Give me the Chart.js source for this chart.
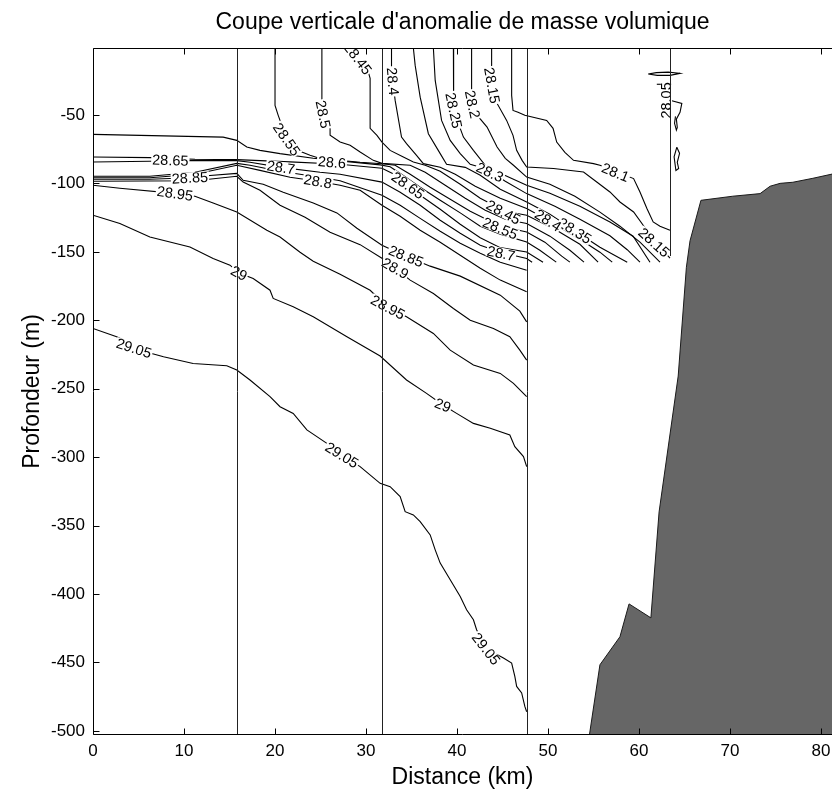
<!DOCTYPE html>
<html><head><meta charset="utf-8">
<script src="https://cdn.jsdelivr.net/npm/chart.js@4.4.1/dist/chart.umd.min.js"></script>
<style>html,body{margin:0;padding:0;background:#fff;}canvas{display:block;}</style>
</head><body>
<canvas id="c" width="832" height="802"></canvas>
<script>
// ---- axes / ticks ----
const xTicks = [0, 10, 20, 30, 40, 50, 60, 70, 80];
const yTicks = [-500, -450, -400, -350, -300, -250, -200, -150, -100, -50];
const xRange = [0, 81.2];
const yRange = [-503, -1];

// ---- CTD stations (km) and bottom of each cast (m) ----
const stationKm = [15.8, 31.75, 47.65, 63.4];
const stationBottom = [-503, -503, -503, -153];

// ---- bathymetry (km, m) ----
const topoKm = [54.5, 55.7, 57.9, 58.9, 61.3, 62.2, 64.3, 65.2, 65.6, 66.8, 70.3, 73.3, 74.4, 75.5, 76.9, 79.1, 81.3];
const topoDepth = [-505, -451.7, -431.2, -407.2, -417.4, -340, -240.7, -161.2, -141.9, -112.3, -109.3, -107.4, -102, -99.9, -99.1, -96.2, -93];

// ---- contour lines of sigma (km, m) ----
const c2805a = [[61.0,-20],[61.9,-19],[63.2,-18.6],[64.5,-19.5],[63.4,-21],[62.0,-21],[61.0,-20]];
const c2805b = [[61.95,-27.5],[63.6,-27.5]];
const c2805c = [[63.6,-39.5],[64.7,-41.5],[64.5,-48],[64.1,-53],[64.2,-59],[64.1,-61],[63.9,-56],[64.0,-51]];
const c2805d = [[64.15,-73.5],[64.45,-78],[64.2,-84.5],[64.35,-89],[64.05,-90.5],[63.85,-80.5],[64.15,-73.5]];
const c2810 = [[46.0,-1],[46.0,-35.6],[46.15,-46.6],[46.7,-48],[47.45,-50.2],[49.85,-53.9],[50.55,-59.7],[50.95,-69.7],[51.85,-77.2],[52.8,-83.1],[55.0,-85.5],[55.7,-86.7],[59.4,-96.4],[60.1,-106.2],[60.85,-118.1],[61.55,-128.1],[62.3,-131.2],[63.4,-134.2]];
const c2815 = [[43.8,-1],[43.8,-15.9],[44.05,-28.3],[44.4,-41.5],[45.45,-53.9],[46.15,-64.8],[46.55,-75.8],[47.15,-83.1],[47.65,-88],[50.6,-89.1],[53.9,-91.6],[55.35,-98.9],[56.8,-106.2],[57.9,-113.5],[59.4,-120.8],[60.85,-134.2],[62.1,-145.1],[63.4,-154.6]];
const c2820 = [[41.6,-1],[41.6,-30.5],[41.7,-42.2],[42.5,-52.4],[43.3,-58.8],[44.4,-73.4],[45.3,-81.6],[46.2,-86.7],[47.65,-95.3],[50.2,-100.6],[52.95,-109.3],[55.7,-120.9],[57.9,-131.2],[60.1,-142.9],[62.3,-157.5]];
const c2825 = [[39.6,-1],[39.6,-32],[39.65,-46.6],[40.7,-66.1],[41.8,-75.8],[43.1,-86.7],[44.75,-92.6],[47.65,-101.3],[50.2,-107.2],[53.5,-116.6],[56.8,-128.2],[59.35,-138.5],[61.2,-157.5]];
const c2830 = [[37.4,-1],[37.6,-24.7],[38.3,-53.9],[39.25,-68.5],[40.35,-78.2],[41.45,-86],[43.3,-89.6],[45.3,-98.4],[47.65,-107.4],[50.75,-116.6],[53.5,-126.1],[56.8,-138.2],[58.7,-148.4],[60.1,-157.5]];
const c2835 = [[35.2,-1],[35.4,-13.7],[35.95,-36.9],[36.85,-63.6],[38.15,-78.2],[38.85,-86],[40.9,-88.2],[42.55,-94],[44.75,-104.2],[47.65,-113.5],[50.2,-122.5],[55.7,-146.6],[58.7,-157.5]];
const c2840 = [[32.8,-1],[32.8,-15.9],[32.95,-25.4],[33.2,-39.3],[33.9,-66.1],[34.45,-70.9],[35.55,-79.4],[36.3,-85.5],[38.15,-88.2],[39.8,-93.3],[42,-102],[44.75,-110.8],[47.65,-118.3],[50.2,-127.6],[53.5,-140.7],[55.7,-150.2],[57.05,-157.5]];
const c2845 = [[27.7,-1],[30.2,-17.4],[30.45,-23.2],[30.45,-59.7],[31.2,-64.8],[31.75,-69.7],[32.65,-75.8],[34.1,-80.7],[35.2,-84.3],[36.5,-86.7],[38.15,-91.1],[40.35,-100.6],[42.55,-110.8],[45.3,-120.3],[47.65,-123.2],[50.75,-133.4],[53.5,-144.4],[55.5,-157.5]];
const c2850 = [[25.15,-1],[25.15,-37.8],[25.15,-49.5],[26.05,-59.9],[26.05,-64.8],[27.15,-69.7],[28.25,-72.1],[29.35,-77],[30.8,-83.1],[31.75,-85.3],[34.85,-86.7],[36.5,-91.8],[38.7,-101.3],[40.9,-110.8],[43.1,-119.6],[45.3,-126.1],[47.65,-129.3],[50.2,-138.5],[52.4,-148.8],[53.95,-157.5]];
const c2855 = [[20,-1],[20,-42.9],[20.35,-50.2],[21.3,-67.7],[22.95,-77],[23.85,-79.4],[24.95,-81.8],[29.35,-84.5],[31.75,-85.6],[33.2,-86.7],[34.85,-93.3],[37.05,-102.7],[39.25,-111.5],[41.45,-120.3],[43.65,-127.6],[45.3,-132],[47.65,-135.4],[49.65,-142.9],[51.5,-153.1],[52.4,-157.5]];
const c2860 = [[0,-64.1],[14.3,-66.1],[15.8,-68.5],[16.9,-73.4],[18.35,-75.8],[20.55,-78.2],[24.2,-81.6],[28.25,-84.2],[31.55,-86.4],[32.65,-87.8],[34.05,-94],[35.95,-102.7],[38.15,-112.3],[40.35,-121.5],[42.55,-131.2],[44.75,-137],[47.65,-142.7],[49.1,-148.8],[50.9,-157.5]];
const c2865 = [[0,-80.7],[6.25,-81.1],[11.2,-82.3],[15.8,-82.6],[21.65,-84.2],[27.15,-86],[31.75,-88.9],[33.75,-95.5],[35.95,-108.6],[38.15,-118.8],[40.35,-129.8],[42.55,-139.6],[44.75,-146.9],[47.65,-150],[49.45,-157.5]];
const c2870 = [[0,-84.3],[6.25,-83.8],[11.2,-83.1],[15.8,-83.3],[17.25,-84.5],[20.65,-88.2],[24.95,-91.8],[27.15,-93.3],[31.75,-99],[33.75,-106.4],[35.95,-115.9],[38.15,-126.9],[40.35,-136.4],[42.55,-145.1],[44.75,-150.2],[47.65,-154.8],[48.25,-157.5]];
const c2875 = [[0,-94.7],[6.25,-94.7],[11.2,-91.8],[15.8,-85.3],[17.25,-86.7],[20.55,-91.1],[24.95,-95.5],[27.15,-98],[31.75,-108.6],[33.75,-115.9],[35.95,-125.5],[38.15,-134.9],[40.35,-143.6],[42.55,-150.9],[44.75,-157.5],[47.65,-163.4]];
const c2880 = [[0,-95.8],[6.25,-95.8],[11.2,-93.3],[15.8,-86.7],[18.35,-90.4],[21.65,-95.5],[24.7,-98.4],[27.15,-101.3],[29.35,-105],[31.75,-115.9],[33.75,-124],[35.95,-134.2],[38.15,-142.9],[40.35,-152.4],[42.55,-161.9],[44.75,-170.6],[47.65,-179.2]];
const c2885 = [[0,-96.9],[6.25,-96.9],[10.65,-95.8],[12.5,-94.4],[15.8,-92.6],[16.5,-97.7],[18.7,-100.6],[20.9,-106.4],[24.2,-114.2],[26.8,-121.5],[29,-132.7],[31.75,-145.1],[34.4,-153.1],[37.05,-160.4],[40.35,-167.7],[44.75,-181.6],[46.9,-193.3],[47.65,-201.1]];
const c2890 = [[0,-98.4],[11.2,-98],[15.8,-94.7],[16.5,-99],[18.35,-105],[20.55,-115.9],[23.3,-124.7],[26.05,-135.6],[29.35,-144.7],[31.75,-154.6],[33.2,-161.9],[34.85,-170.6],[37.4,-180.4],[39.6,-191.3],[41.45,-199.9],[44,-205.9],[45.8,-212],[46.9,-221.8],[47.65,-229.1]];
const c2895 = [[0,-101.3],[2.95,-103.5],[9,-107.2],[11.2,-109.3],[13.2,-114.2],[15.8,-120.8],[19.1,-134.2],[20.55,-139.1],[22.75,-150.2],[24.2,-156.8],[27.15,-166.3],[30.45,-178],[32.4,-190.4],[34.45,-197.4],[37.4,-209.6],[39.25,-221.8],[41.8,-232.7],[44.75,-238.8],[46.2,-246.1],[47.65,-255.8]];
const c2900 = [[0,-123.2],[2.95,-129.3],[6.25,-139.1],[10.65,-146.4],[13.2,-154.8],[15.05,-159.7],[16.05,-165.5],[17.6,-169.4],[19.45,-178],[19.8,-184],[22,-190.1],[24.2,-197.4],[27.9,-212],[31.55,-226.1],[34.45,-243.6],[36.65,-253.4],[38.45,-261.9],[39.95,-268],[41.8,-275.3],[43.65,-278.9],[45.8,-283.8],[46.35,-292.3],[47.3,-299.6],[47.65,-306.9]];
const c2905 = [[0,-205.9],[2.6,-212],[6.45,-224.2],[7.75,-226.6],[11,-231.5],[14.7,-233.2],[15.8,-236.3],[17.25,-243.6],[19.45,-255.8],[20.55,-263.1],[22,-268],[23.5,-280.1],[25.7,-289.9],[27.35,-298.4],[29.35,-306.9],[31.55,-319.1],[32.65,-321.5],[33.75,-328.8],[34.3,-339.8],[35.2,-342.2],[35.95,-347.1],[37.05,-356.8],[37.6,-367.7],[38.15,-377.4],[39.25,-389.6],[40.35,-401.8],[41.05,-411.5],[41.8,-418.8],[42.15,-426.1],[43.2,-440],[45.1,-446.8],[46,-450.4],[46.35,-460.2],[46.55,-467.5],[47.1,-472.3],[47.45,-482.1],[47.65,-486]];

const contourLines = [c2805a, c2805b, c2805c, c2805d, c2810, c2815, c2820, c2825, c2830, c2835, c2840, c2845, c2850, c2855, c2860, c2865, c2870, c2875, c2880, c2885, c2890, c2895, c2900, c2905];

// ---- contour labels ----
const labelText  = ['28.05','28.1','28.15','28.15','28.2','28.25','28.3','28.35','28.4','28.4','28.45','28.45','28.5','28.55','28.55','28.6','28.65','28.65','28.7','28.7','28.8','28.85','28.85','28.9','28.95','28.95','29','29','29.05','29.05','29.05'];
const labelKm    = [63.0, 57.4, 43.85, 61.65, 41.7, 39.65, 43.6, 52.95, 32.95, 50.0, 29.1, 45.1, 25.3, 21.3, 44.75, 26.25, 8.5, 34.6, 20.65, 44.85, 24.7, 10.65, 34.4, 33.2, 9.0, 32.4, 16.05, 38.45, 4.5, 27.35, 43.2];
const labelDepth = [-39.3, -91.8, -28.3, -143, -42.2, -46.6, -91.8, -134.5, -25.4, -126.9, -8.6, -121, -49.5, -67.7, -132.7, -84.5, -83, -101.3, -88.2, -151, -98.4, -95.8, -153.1, -161.9, -107.2, -190.4, -165.5, -261.9, -220.3, -298.4, -440];
const labelAngle = [-90, 22, 80, 42, 78, 78, 25, 32, 85, 33, 52, 28, 78, 55, 22, 5, 2, 35, 8, 12, 10, -3, 22, 30, 8, 28, 28, 22, 18, 32, 52];

const FONT = "'Liberation Sans', Arial, Helvetica, sans-serif";
Chart.defaults.font.family = FONT;
Chart.defaults.color = '#000';

const datasets = [];
datasets.push({
  data: topoKm.map((k, i) => ({x: k, y: topoDepth[i]})),
  showLine: true, pointRadius: 0, borderColor: '#1a1a1a', borderWidth: 1,
  backgroundColor: '#666666', fill: 'start', tension: 0
});
contourLines.forEach(line => datasets.push({
  data: line.map(p => ({x: p[0], y: p[1]})),
  showLine: true, pointRadius: 0, borderColor: '#000', borderWidth: 1.1,
  fill: false, tension: 0
}));

const overlay = {
  id: 'overlay',
  afterDatasetsDraw(chart) {
    const {ctx, chartArea: a, scales: {x, y}} = chart;
    ctx.save();
    ctx.beginPath(); ctx.rect(a.left, a.top, a.right - a.left, a.bottom - a.top); ctx.clip();
    ctx.font = '14.5px ' + FONT;
    ctx.textAlign = 'center'; ctx.textBaseline = 'middle';
    for (let i = 0; i < labelText.length; i++) {
      const px = x.getPixelForValue(labelKm[i]), py = y.getPixelForValue(labelDepth[i]);
      ctx.save(); ctx.translate(px, py); ctx.rotate(labelAngle[i] * Math.PI / 180);
      const w = ctx.measureText(labelText[i]).width;
      ctx.fillStyle = '#fff'; ctx.fillRect(-w / 2 - 1, -5.5, w + 2, 11);
      ctx.fillStyle = '#000'; ctx.fillText(labelText[i], 0, 1);
      ctx.restore();
    }
    ctx.strokeStyle = '#222'; ctx.lineWidth = 1;
    stationKm.forEach((s, i) => {
      const px = Math.round(x.getPixelForValue(s)) + 0.5;
      ctx.beginPath();
      ctx.moveTo(px, a.top);
      ctx.lineTo(px, y.getPixelForValue(stationBottom[i]));
      ctx.stroke();
    });
    ctx.restore();
  },
  afterDraw(chart) {
    const {ctx, chartArea: a, scales: {x, y}} = chart;
    ctx.save(); ctx.strokeStyle = '#000'; ctx.lineWidth = 1;
    ctx.beginPath();
    const t = Math.round(a.top) + 0.5, b = Math.round(a.bottom) - 0.5, l = Math.round(a.left) + 0.5;
    ctx.moveTo(l, t); ctx.lineTo(a.right, t);
    ctx.moveTo(l, t); ctx.lineTo(l, b);
    ctx.moveTo(l, b); ctx.lineTo(a.right, b);
    xTicks.forEach(v => {
      const px = Math.round(x.getPixelForValue(v)) + 0.5;
      ctx.moveTo(px, b); ctx.lineTo(px, b - 6);
      ctx.moveTo(px, t); ctx.lineTo(px, t + 6);
    });
    yTicks.forEach(v => {
      const py = Math.round(y.getPixelForValue(v)) + 0.5;
      ctx.moveTo(l, py); ctx.lineTo(l + 6, py);
    });
    ctx.stroke(); ctx.restore();
  }
};

new Chart(document.getElementById('c'), {
  type: 'scatter',
  data: {datasets},
  plugins: [overlay],
  options: {
    responsive: false, devicePixelRatio: 1, animation: false,
    layout: {padding: 0},
    plugins: {
      legend: {display: false}, tooltip: {enabled: false},
      title: {display: true, fullSize: false, text: "Coupe verticale d'anomalie de masse volumique",
        font: {size: 23, weight: 'normal'}, color: '#000', padding: {top: 9, bottom: 11.4}}
    },
    scales: {
      x: {
        type: 'linear', position: 'bottom', min: xRange[0], max: xRange[1],
        grid: {display: false, drawTicks: false}, border: {display: false},
        afterBuildTicks: s => { s.ticks = xTicks.map(v => ({value: v})); },
        afterFit: s => { s.height = 67; s.paddingLeft = 0; s.paddingRight = 0; },
        ticks: {font: {size: 17}, color: '#000', padding: 6, maxRotation: 0, autoSkip: false},
        title: {display: true, text: 'Distance (km)', font: {size: 23}, color: '#000', padding: {top: 0, bottom: 11}}
      },
      y: {
        type: 'linear', min: yRange[0], max: yRange[1],
        grid: {display: false, drawTicks: false}, border: {display: false},
        afterBuildTicks: s => { s.ticks = yTicks.map(v => ({value: v})); },
        afterFit: s => { s.width = 93; s.paddingTop = 0; s.paddingBottom = 0; },
        ticks: {font: {size: 17}, color: '#000', padding: 8, autoSkip: false},
        title: {display: true, text: 'Profondeur (m)', font: {size: 23}, color: '#000', padding: {top: 19, bottom: 0}}
      }
    }
  }
});
</script>
</body></html>
